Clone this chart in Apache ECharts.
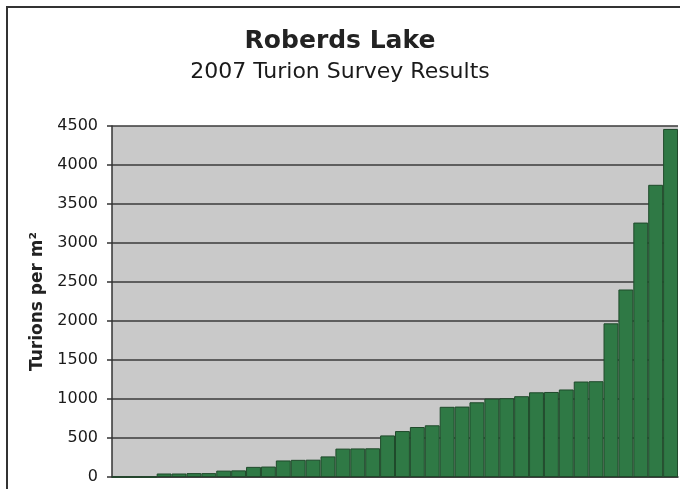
<!DOCTYPE html>
<html>
<head>
<meta charset="utf-8">
<script src="https://cdn.jsdelivr.net/npm/echarts@6/dist/echarts.min.js"></script>
<style>
html,body{margin:0;padding:0;background:#fff;}
#chart{width:680px;height:489px;}
</style>
</head>
<body>
<div id="chart"></div>
<script>
const titleText = "Roberds Lake";
const subtitleText = "2007 Turion Survey Results";
const yAxisTitle = "Turions per m\u00B2";
const sites = ["1","2","3","4","5","6","7","8","9","10","11","12","13","14","15","16","17","18","19","20","21","22","23","24","25","26","27","28","29","30","31","32","33","34","35","36","37","38"];
const turions = [0,0,0,45,45,50,50,82,85,130,134,212,220,222,264,364,366,368,533,589,641,663,900,903,958,1005,1010,1036,1086,1090,1122,1224,1228,1970,2404,3262,3746,4462];
const yTicks = [0,500,1000,1500,2000,2500,3000,3500,4000,4500];

const FONT = "DejaVu Sans";
const chart = echarts.init(document.getElementById('chart'), null, {renderer:'canvas'});
chart.setOption({
  animation:false,
  backgroundColor:'#ffffff',
  textStyle:{fontFamily:FONT},
  title:[
    {text:titleText, left:'center', top:24,
     textStyle:{fontFamily:FONT, fontSize:25, fontWeight:'bold', color:'#222'}},
    {text:subtitleText, left:'center', top:56,
     textStyle:{fontFamily:FONT, fontSize:22, fontWeight:'normal', color:'#1a1a1a'}}
  ],
  graphic:[{
    type:'rect', silent:true, z:-10,
    shape:{x:7, y:7, width:700, height:520},
    style:{fill:null, stroke:'#333', lineWidth:2}
  }],
  grid:{left:112, top:126, right:2, bottom:12, show:true, backgroundColor:'#c9c9c9', borderWidth:0},
  xAxis:{
    type:'category', data:sites,
    axisLine:{show:true, lineStyle:{color:'#333', width:1.5}},
    axisTick:{show:false}, axisLabel:{show:false}
  },
  yAxis:{
    type:'value', min:yTicks[0], max:yTicks[yTicks.length-1], interval:yTicks[1]-yTicks[0],
    name:yAxisTitle, nameLocation:'middle', nameGap:60,
    nameTextStyle:{fontFamily:FONT, fontSize:17, fontWeight:'bold', color:'#222'},
    axisLine:{show:true, lineStyle:{color:'#333', width:1.5}},
    axisTick:{show:true, length:5, lineStyle:{color:'#333', width:1.5}},
    axisLabel:{fontFamily:FONT, fontSize:16, color:'#1a1a1a', margin:14,
               formatter:function(v){return String(v);}},
    splitLine:{show:true, lineStyle:{color:'#3a3a3a', width:1.5}}
  },
  series:[{
    type:'bar', data:turions, barCategoryGap:'0%',
    itemStyle:{color:'#2f7945', borderColor:'#1f4a2b', borderWidth:1}
  }]
});
</script>
</body>
</html>
